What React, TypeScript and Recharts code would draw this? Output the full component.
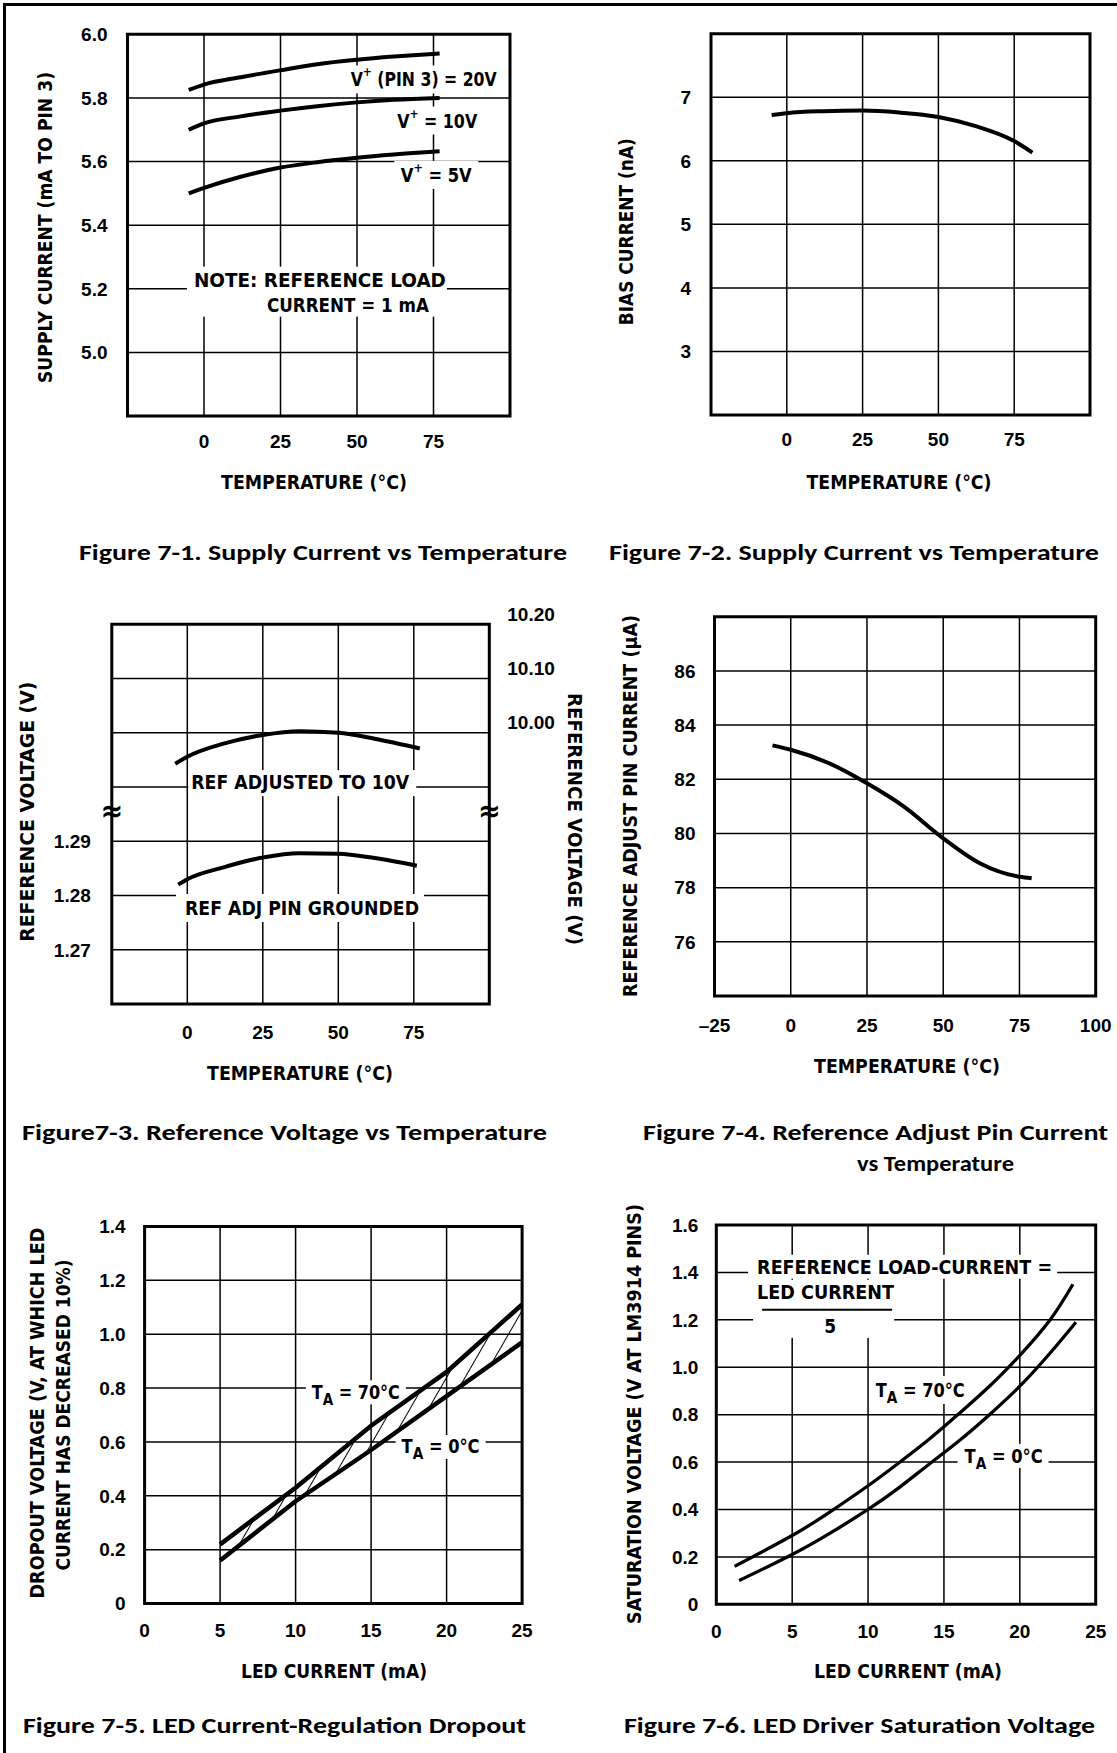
import React from 'react'
import {
  LineChart, ComposedChart, Line, Area, XAxis, YAxis, CartesianGrid,
  ReferenceArea, ReferenceDot,
} from 'recharts'

// values

// Figure 7-1: supply current vs temperature
const supplyTemps = [-5, 0, 12, 25, 37, 50, 62, 77]
const supply20V = [5.825, 5.842, 5.865, 5.887, 5.906, 5.92, 5.93, 5.94]
const supply10V = [5.7, 5.72, 5.742, 5.76, 5.774, 5.786, 5.794, 5.8]
const supply5V = [5.5, 5.517, 5.552, 5.581, 5.598, 5.612, 5.622, 5.632]
const supplyTicks = [4.8, 5.0, 5.2, 5.4, 5.6, 5.8, 6.0]

// Figure 7-2: bias current
const biasTemps = [-5, 0, 12, 25, 37, 50, 62, 75, 81]
const biasCurrent = [6.72, 6.75, 6.78, 6.79, 6.76, 6.69, 6.55, 6.31, 6.13]
const biasTicks = [2, 3, 4, 5, 6, 7, 8]

// Figure 7-3: reference voltage (two scales)
const ref10Temps = [-4, 0, 12, 25, 37, 50, 62, 77]
const ref10V = [9.943, 9.956, 9.98, 9.996, 10.003, 10.0, 9.989, 9.971]
const refGndTemps = [-3, 0, 12, 25, 37, 50, 62, 76]
const refGndV = [1.282, 1.283, 1.2852, 1.287, 1.2878, 1.2877, 1.2869, 1.2855]
const refLowTicks = [1.26, 1.27, 1.28, 1.29, 1.3, 1.31, 1.32, 1.33]
const refLowLabels = [1.27, 1.28, 1.29]
const refHighTicks = [10.0, 10.1, 10.2]

// Figure 7-4: reference adjust pin current
const adjTemps = [-6, 0, 12, 25, 37, 50, 62, 75, 79]
const adjCurrent = [83.25, 83.09, 82.62, 81.85, 81.0, 79.82, 78.9, 78.4, 78.35]
const adjTicks = [74, 76, 78, 80, 82, 84, 86, 88]

// Figure 7-5: dropout
const dropLed = [5, 10, 15, 20, 25]
const drop70C = [0.22, 0.43, 0.66, 0.86, 1.11]
const drop0C = [0.16, 0.38, 0.57, 0.77, 0.97]
const dropTicks = [0, 0.2, 0.4, 0.6, 0.8, 1.0, 1.2, 1.4]

// Figure 7-6: saturation voltage
const sat70Led = [1.2, 5, 7.5, 10, 12, 14, 16, 18, 20, 22, 23.5]
const sat70V = [0.16, 0.29, 0.39, 0.5, 0.595, 0.695, 0.805, 0.92, 1.05, 1.2, 1.35]
const sat0Led = [1.5, 5, 7.5, 10, 12, 14, 16, 18, 20, 22, 23.7]
const sat0V = [0.1, 0.21, 0.3, 0.4, 0.49, 0.59, 0.69, 0.8, 0.92, 1.06, 1.19]
const satTicks = [0, 0.2, 0.4, 0.6, 0.8, 1.0, 1.2, 1.4, 1.6]

const tempTicks = [-25, 0, 25, 50, 75, 100]
const ledTicks = [0, 5, 10, 15, 20, 25]

const rows = (xs: number[], ys: number[]) => xs.map((x, i) => ({ x, y: ys[i] }))
const dropRows = dropLed.map((x, i) => ({ x, hi: drop70C[i], lo: drop0C[i], band: [drop0C[i], drop70C[i]] }))

const FONT = "'Liberation Sans', Arial, sans-serif"
const NARROW = "'Liberation Sans Narrow', 'DejaVu Sans Condensed', 'Liberation Sans', sans-serif"
const CAPTION = "Carlito, Lato, 'Open Sans', sans-serif"
const tickStyle = { fontSize: 19, fontWeight: 700, fill: '#000', fontFamily: FONT }

const tempFmt = (v: number) => (v === -25 || v === 100 ? '' : String(v))

function xAxis(domain: number[], ticks: number[], fmt: (v: number) => string, margin: number) {
  return (
    <XAxis type="number" dataKey="x" domain={domain} ticks={ticks} interval={0} tickFormatter={fmt}
      tickLine={false} axisLine={false} tickSize={0} tickMargin={margin} height={1}
      tick={tickStyle} allowDataOverflow />
  )
}

type TagLine = { t: React.ReactNode; dx?: number; dy?: number; len?: number; fs?: number; anchor?: 'start' | 'middle' }

// white label box + text, placed by ReferenceDot at data coordinates
function tag(box: number[] | null, lines: TagLine[], extra?: (cx: number, cy: number) => React.ReactNode) {
  return (p: any) => (
    <g>
      {box && <rect x={p.cx + box[0]} y={p.cy + box[1]} width={box[2]} height={box[3]} fill="#fff" />}
      {lines.map((l, i) => (
        <text key={i} x={p.cx + (l.dx || 0)} y={p.cy + (l.dy || 0)} textAnchor={l.anchor || 'middle'}
          dominantBaseline="central" fontSize={l.fs || 19} fontWeight={700} fontFamily={NARROW} fill="#000"
          textLength={l.len} lengthAdjust="spacingAndGlyphs">{l.t}</text>
      ))}
      {extra && extra(p.cx, p.cy)}
    </g>
  )
}

const vPlus = (rest: string) => (
  <>V<tspan dy={-8} fontSize={13}>+</tspan><tspan dy={8}>{rest}</tspan></>
)
const tA = (rest: string) => (
  <>T<tspan dy={7} fontSize={16}>A</tspan><tspan dy={-7}>{rest}</tspan></>
)

const lineProps = {
  type: 'monotone' as const, stroke: '#000', strokeWidth: 4, dot: false, activeDot: false,
  isAnimationActive: false, strokeLinecap: 'butt' as const,
}

function Panel({ left, top, children }: { left: number; top: number; children: React.ReactNode }) {
  return <div style={{ position: 'absolute', left, top }}>{children}</div>
}

function Title({ x, y, len, rot = 0, fs = 20, children }: any) {
  return (
    <text x={x} y={y} textAnchor="middle" fontSize={fs} fontWeight={700} fontFamily={NARROW}
      textLength={len} lengthAdjust="spacingAndGlyphs"
      transform={rot ? `rotate(${rot} ${x} ${y})` : undefined}>{children}</text>
  )
}

function Caption({ x, y, len, children }: any) {
  return (
    <text x={x} y={y} fontSize={22} fontWeight={800} fontFamily={CAPTION}
      textLength={len} lengthAdjust="spacingAndGlyphs">{children}</text>
  )
}

export default function App() {
  return (
    <div style={{ position: 'absolute', left: 0, top: 0, width: 1117, height: 1753, background: '#fff', overflow: 'hidden' }}>
      {/* Figure 7-1 */}
      <Panel left={0} top={0}>
        <LineChart width={558} height={520} margin={{ top: 34.3, left: 126.5, right: 48, bottom: 103 }}>
          <CartesianGrid stroke="#000" strokeWidth={1.5} />
          {xAxis([-25, 100], tempTicks, tempFmt, 19)}
          <YAxis type="number" domain={[4.8, 6.0]} ticks={supplyTicks} interval={0} width={1}
            tickFormatter={(v: number) => (v === 4.8 ? '' : v.toFixed(1))}
            tickLine={false} axisLine={false} tickSize={0} tickMargin={20} tick={tickStyle} allowDataOverflow />
          <ReferenceArea x1={-25} x2={100} y1={4.8} y2={6.0} fill="none" stroke="#000" strokeWidth={3} ifOverflow="visible" />
          <ReferenceDot x={71.8} y={5.858} r={1} ifOverflow="visible" zIndex={0}
            shape={tag([-78, -14, 156, 28], [{ t: vPlus(' (PIN 3) = 20V'), len: 146 }])} />
          <ReferenceDot x={76.2} y={5.729} r={1} ifOverflow="visible" zIndex={0}
            shape={tag([-46, -14, 92, 28], [{ t: vPlus(' = 10V'), len: 80 }])} />
          <ReferenceDot x={75.9} y={5.558} r={1} ifOverflow="visible" zIndex={0}
            shape={tag([-42, -14, 84, 28], [{ t: vPlus(' = 5V'), len: 71 }])} />
          <ReferenceDot x={36.9} y={5.191} r={1} ifOverflow="visible" zIndex={0}
            shape={tag([-130, -25, 260, 50], [
              { t: 'NOTE:  REFERENCE LOAD', dx: 3, dy: -12, len: 252 },
              { t: 'CURRENT = 1 mA', dx: 31, dy: 13, len: 162 },
            ])} />
          <Line data={rows(supplyTemps, supply20V)} dataKey="y" {...lineProps} />
          <Line data={rows(supplyTemps, supply10V)} dataKey="y" {...lineProps} />
          <Line data={rows(supplyTemps, supply5V)} dataKey="y" {...lineProps} />
        </LineChart>
      </Panel>

      {/* Figure 7-2 */}
      <Panel left={558} top={0}>
        <LineChart width={559} height={520} margin={{ top: 33.7, left: 152, right: 27, bottom: 104 }}>
          <CartesianGrid stroke="#000" strokeWidth={1.5} />
          {xAxis([-25, 100], tempTicks, tempFmt, 18)}
          <YAxis type="number" domain={[2, 8]} ticks={biasTicks} interval={0} width={1}
            tickFormatter={(v: number) => (v === 2 || v === 8 ? '' : String(v))}
            tickLine={false} axisLine={false} tickSize={0} tickMargin={20} tick={tickStyle} allowDataOverflow />
          <ReferenceArea x1={-25} x2={100} y1={2} y2={8} fill="none" stroke="#000" strokeWidth={3} ifOverflow="visible" />
          <Line data={rows(biasTemps, biasCurrent)} dataKey="y" {...lineProps} />
        </LineChart>
      </Panel>

      {/* Figure 7-3 */}
      <Panel left={0} top={580}>
        <LineChart width={558} height={520} margin={{ top: 44.3, left: 110.8, right: 67.7, bottom: 95 }}>
          <CartesianGrid stroke="#000" strokeWidth={1.5} yAxisId="low" />
          {xAxis([-25, 100], tempTicks, tempFmt, 22)}
          <YAxis yAxisId="low" type="number" domain={[1.26, 1.33]} ticks={refLowTicks} interval={0} width={1}
            tickFormatter={(v: number) => (refLowLabels.includes(v) ? v.toFixed(2) : '')}
            tickLine={false} axisLine={false} tickSize={0} tickMargin={21} tick={tickStyle} allowDataOverflow />
          <YAxis yAxisId="high" orientation="right" type="number" domain={[9.5, 10.2]} ticks={refHighTicks}
            interval={0} width={1} tickLine={false} axisLine={false} tickSize={0} tickMargin={18} allowDataOverflow
            tick={(p: any) => (
              <text x={p.x} y={p.y - 10} textAnchor="start" dominantBaseline="central" {...tickStyle}>
                {Number(p.payload.value).toFixed(2)}
              </text>
            )} />
          <ReferenceArea yAxisId="low" x1={-25} x2={100} y1={1.26} y2={1.33} fill="none" stroke="#000" strokeWidth={3} ifOverflow="visible" />
          <ReferenceDot yAxisId="low" x={37.4} y={1.3009} r={1} ifOverflow="visible" zIndex={0}
            shape={tag([-112, -12, 228, 26], [{ t: 'REF ADJUSTED TO 10V', len: 218, fs: 20 }])} />
          <ReferenceDot yAxisId="low" x={38} y={1.2777} r={1} ifOverflow="visible" zIndex={0}
            shape={tag([-126, -14, 248, 28], [{ t: 'REF ADJ PIN GROUNDED', len: 234, fs: 20 }])} />
          <ReferenceDot yAxisId="low" x={-25} y={1.2957} r={1} ifOverflow="visible"
            shape={tag(null, [{ t: '≈', fs: 30 }])} />
          <ReferenceDot yAxisId="low" x={100} y={1.2957} r={1} ifOverflow="visible"
            shape={tag(null, [{ t: '≈', fs: 30 }])} />
          <Line yAxisId="high" data={rows(ref10Temps, ref10V)} dataKey="y" {...lineProps} />
          <Line yAxisId="low" data={rows(refGndTemps, refGndV)} dataKey="y" {...lineProps} />
        </LineChart>
      </Panel>

      {/* Figure 7-4 */}
      <Panel left={558} top={580}>
        <LineChart width={559} height={520} margin={{ top: 36.7, left: 155.5, right: 21.3, bottom: 103 }}>
          <CartesianGrid stroke="#000" strokeWidth={1.5} />
          {xAxis([-25, 100], tempTicks, (v: number) => (v < 0 ? `–${-v}` : String(v)), 23)}
          <YAxis type="number" domain={[74, 88]} ticks={adjTicks} interval={0} width={1}
            tickFormatter={(v: number) => (v === 74 || v === 88 ? '' : String(v))}
            tickLine={false} axisLine={false} tickSize={0} tickMargin={19} tick={tickStyle} allowDataOverflow />
          <ReferenceArea x1={-25} x2={100} y1={74} y2={88} fill="none" stroke="#000" strokeWidth={3} ifOverflow="visible" />
          <Line data={rows(adjTemps, adjCurrent)} dataKey="y" {...lineProps} />
        </LineChart>
      </Panel>

      {/* Figure 7-5 */}
      <Panel left={0} top={1190}>
        <ComposedChart data={dropRows} width={558} height={510} margin={{ top: 36.4, left: 143.6, right: 35.9, bottom: 95.4 }}>
          <CartesianGrid stroke="#000" strokeWidth={1.5} />
          {xAxis([0, 25], ledTicks, (v: number) => String(v), 20)}
          <YAxis type="number" domain={[0, 1.4]} ticks={dropTicks} interval={0} width={1}
            tickFormatter={(v: number) => (v === 0 ? '0' : v.toFixed(1))}
            tickLine={false} axisLine={false} tickSize={0} tickMargin={19} tick={tickStyle} allowDataOverflow />
          <ReferenceArea x1={0} x2={25} y1={0} y2={1.4} fill="none" stroke="#000" strokeWidth={3} ifOverflow="visible" />
          <ReferenceDot x={13.99} y={0.784} r={1} ifOverflow="visible" zIndex={0}
            shape={tag([-50, -12, 100, 24], [{ t: tA(' = 70°C'), len: 88 }])} />
          <ReferenceDot x={19.6} y={0.585} r={1} ifOverflow="visible" zIndex={0}
            shape={tag([-45, -11, 90, 24], [{ t: tA(' = 0°C'), len: 78 }])} />
          <Area dataKey="band" type="linear" fill="url(#hatch)" fillOpacity={1} stroke="none" isAnimationActive={false} activeDot={false} />
          <Line dataKey="hi" {...lineProps} type="linear" strokeWidth={4.5} />
          <Line dataKey="lo" {...lineProps} type="linear" strokeWidth={4.5} />
        </ComposedChart>
      </Panel>

      {/* Figure 7-6 */}
      <Panel left={558} top={1190}>
        <LineChart width={559} height={510} margin={{ top: 35, left: 157.3, right: 21.3, bottom: 94.7 }}>
          <CartesianGrid stroke="#000" strokeWidth={1.5} />
          {xAxis([0, 25], ledTicks, (v: number) => String(v), 20)}
          <YAxis type="number" domain={[0, 1.6]} ticks={satTicks} interval={0} width={1}
            tickFormatter={(v: number) => (v === 0 ? '0' : v.toFixed(1))}
            tickLine={false} axisLine={false} tickSize={0} tickMargin={18} tick={tickStyle} allowDataOverflow />
          <ReferenceArea x1={0} x2={25} y1={0} y2={1.6} fill="none" stroke="#000" strokeWidth={3} ifOverflow="visible" />
          <ReferenceDot x={2.69} y={1.424} r={1} ifOverflow="visible" zIndex={0}
            shape={tag([-9, -12, 309, 24], [{ t: 'REFERENCE LOAD-CURRENT =', anchor: 'start', len: 295 }])} />
          <ReferenceDot x={2.69} y={1.318} r={1} ifOverflow="visible" zIndex={0}
            shape={tag([-4, -12, 141, 58], [
              { t: 'LED CURRENT', anchor: 'start', len: 137 },
              { t: '5', dx: 73, dy: 34 },
            ], (cx, cy) => <line x1={cx + 5} x2={cx + 135} y1={cy + 18} y2={cy + 18} stroke="#000" strokeWidth={2} />)} />
          <ReferenceDot x={13.44} y={0.904} r={1} ifOverflow="visible" zIndex={0}
            shape={tag([-46, -14, 92, 28], [{ t: tA(' = 70°C'), len: 89 }])} />
          <ReferenceDot x={18.93} y={0.626} r={1} ifOverflow="visible" zIndex={0}
            shape={tag([-46, -12, 91, 24], [{ t: tA(' = 0°C'), len: 78 }])} />
          <Line data={rows(sat70Led, sat70V)} dataKey="y" {...lineProps} type="natural" strokeWidth={3.3} />
          <Line data={rows(sat0Led, sat0V)} dataKey="y" {...lineProps} type="natural" strokeWidth={3.3} />
        </LineChart>
      </Panel>

      {/* titles, captions, frame */}
      <svg width={1117} height={1753} style={{ position: 'absolute', left: 0, top: 0, pointerEvents: 'none' }}>
        <defs>
          <pattern id="hatch" patternUnits="userSpaceOnUse" width={16} height={16} patternTransform="rotate(30)">
            <line x1={0} y1={0} x2={0} y2={16} stroke="#000" strokeWidth={2} />
          </pattern>
        </defs>
        <path d="M4.5 1760 V4.5 H1120" fill="none" stroke="#000" strokeWidth={3} />

        <Title x={52} y={227.5} len={311} rot={-90}>SUPPLY CURRENT (mA TO PIN 3)</Title>
        <Title x={314} y={489} len={186}>TEMPERATURE (°C)</Title>
        <Caption x={79} y={560} len={488}>Figure 7-1. Supply Current vs Temperature</Caption>

        <Title x={633} y={231.7} len={187} rot={-90}>BIAS CURRENT (nA)</Title>
        <Title x={899} y={489} len={185}>TEMPERATURE (°C)</Title>
        <Caption x={609} y={560} len={490}>Figure 7-2. Supply Current vs Temperature</Caption>

        <Title x={34} y={811.7} len={260} rot={-90}>REFERENCE VOLTAGE (V)</Title>
        <Title x={568} y={819} len={252} rot={90}>REFERENCE VOLTAGE (V)</Title>
        <Title x={300} y={1080} len={186}>TEMPERATURE (°C)</Title>
        <Caption x={22} y={1140} len={525}>Figure7-3. Reference Voltage vs Temperature</Caption>

        <Title x={637} y={806} len={382} rot={-90}>REFERENCE ADJUST PIN CURRENT (μA)</Title>
        <Title x={907} y={1073} len={186}>TEMPERATURE (°C)</Title>
        <Caption x={643} y={1140} len={465}>Figure 7-4. Reference Adjust Pin Current</Caption>
        <Caption x={857} y={1171} len={157}>vs Temperature</Caption>

        <Title x={44} y={1413} len={371} rot={-90} fs={19}>DROPOUT VOLTAGE (V, AT WHICH LED</Title>
        <Title x={70} y={1415} len={311} rot={-90} fs={19}>CURRENT HAS DECREASED 10%)</Title>
        <Title x={334} y={1678} len={186}>LED CURRENT (mA)</Title>
        <Caption x={23} y={1733} len={503}>Figure 7-5. LED Current-Regulation Dropout</Caption>

        <Title x={641} y={1414} len={420} rot={-90}>SATURATION VOLTAGE (V AT LM3914 PINS)</Title>
        <Title x={908} y={1678} len={188}>LED CURRENT (mA)</Title>
        <Caption x={624} y={1733} len={471}>Figure 7-6. LED Driver Saturation Voltage</Caption>
      </svg>
    </div>
  )
}
